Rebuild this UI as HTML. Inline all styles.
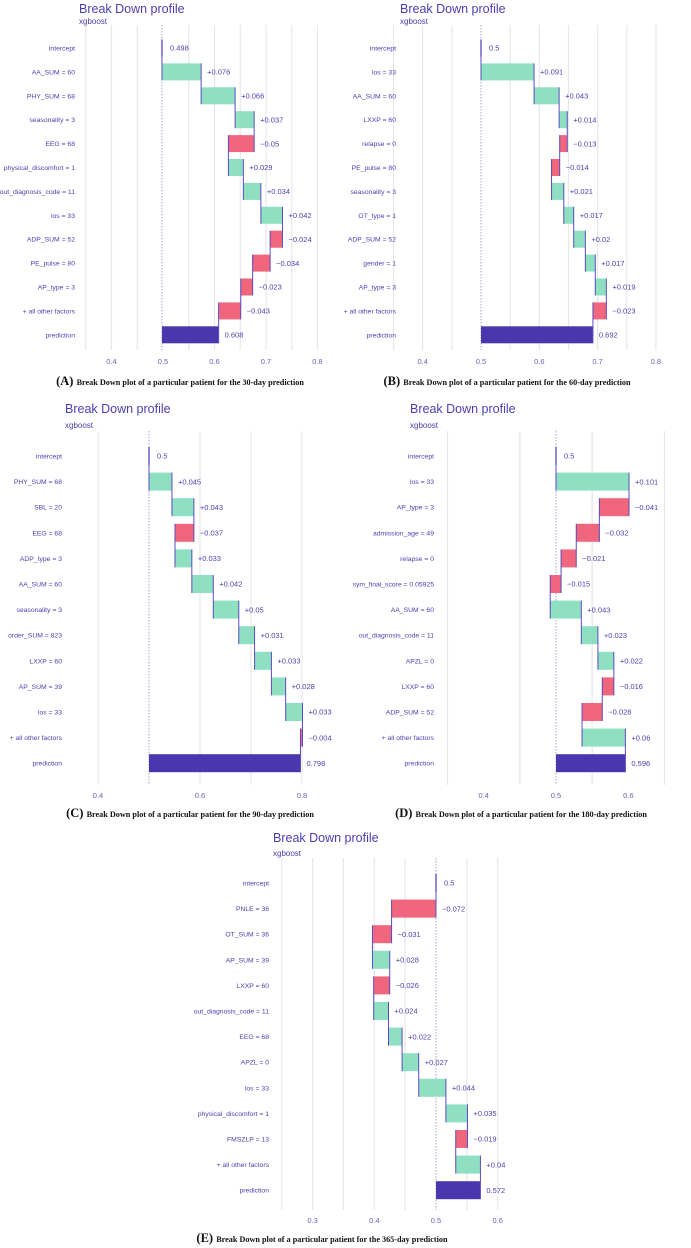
<!DOCTYPE html>
<html><head><meta charset="utf-8">
<style>
html,body{margin:0;padding:0;background:#fff;}
svg{display:block;}
</style></head>
<body>
<svg id="chart" width="691" height="1248" viewBox="0 0 691 1248" xmlns="http://www.w3.org/2000/svg"></svg>
<script>
// Panel A (30-day)
const labelsA = ["intercept","AA_SUM = 60","PHY_SUM = 68","seasonality = 3","EEG = 68","physical_discomfort = 1","out_diagnosis_code = 11","los = 33","ADP_SUM = 52","PE_pulse = 80","AP_type = 3","+ all other factors","prediction"];
const interceptA = 0.498;
const contribA = [0.076,0.066,0.037,-0.05,0.029,0.034,0.042,-0.024,-0.034,-0.023,-0.043];
const textA = ["0.498","+0.076","+0.066","+0.037","\u22120.05","+0.029","+0.034","+0.042","\u22120.024","\u22120.034","\u22120.023","\u22120.043","0.608"];
const ticksA = [0.4,0.5,0.6,0.7,0.8];
// Panel B (60-day)
const labelsB = ["intercept","los = 33","AA_SUM = 60","LXXP = 60","relapse = 0","PE_pulse = 80","seasonality = 3","OT_type = 1","ADP_SUM = 52","gender = 1","AP_type = 3","+ all other factors","prediction"];
const interceptB = 0.5;
const contribB = [0.091,0.043,0.014,-0.013,-0.014,0.021,0.017,0.02,0.017,0.019,-0.023];
const textB = ["0.5","+0.091","+0.043","+0.014","\u22120.013","\u22120.014","+0.021","+0.017","+0.02","+0.017","+0.019","\u22120.023","0.692"];
const ticksB = [0.4,0.5,0.6,0.7,0.8];
// Panel C (90-day)
const labelsC = ["intercept","PHY_SUM = 68","SBL = 20","EEG = 68","ADP_type = 3","AA_SUM = 60","seasonality = 3","order_SUM = 823","LXXP = 60","AP_SUM = 39","los = 33","+ all other factors","prediction"];
const interceptC = 0.5;
const contribC = [0.045,0.043,-0.037,0.033,0.042,0.05,0.031,0.033,0.028,0.033,-0.004];
const textC = ["0.5","+0.045","+0.043","\u22120.037","+0.033","+0.042","+0.05","+0.031","+0.033","+0.028","+0.033","\u22120.004","0.798"];
const ticksC = [0.4,0.6,0.8];
// Panel D (180-day)
const labelsD = ["intercept","los = 33","AP_type = 3","admission_age = 49","relapse = 0","sym_final_score = 0.05925","AA_SUM = 60","out_diagnosis_code = 11","APZL = 0","LXXP = 60","ADP_SUM = 52","+ all other factors","prediction"];
const interceptD = 0.5;
const contribD = [0.101,-0.041,-0.032,-0.021,-0.015,0.043,0.023,0.022,-0.016,-0.028,0.06];
const textD = ["0.5","+0.101","\u22120.041","\u22120.032","\u22120.021","\u22120.015","+0.043","+0.023","+0.022","\u22120.016","\u22120.028","+0.06","0.596"];
const ticksD = [0.4,0.5,0.6];
// Panel E (365-day)
const labelsE = ["intercept","PNLE = 36","OT_SUM = 36","AP_SUM = 39","LXXP = 60","out_diagnosis_code = 11","EEG = 68","APZL = 0","los = 33","physical_discomfort = 1","FMSZLP = 13","+ all other factors","prediction"];
const interceptE = 0.5;
const contribE = [-0.072,-0.031,0.028,-0.026,0.024,0.022,0.027,0.044,0.035,-0.019,0.04];
const textE = ["0.5","\u22120.072","\u22120.031","+0.028","\u22120.026","+0.024","+0.022","+0.027","+0.044","+0.035","\u22120.019","+0.04","0.572"];
const ticksE = [0.3,0.4,0.5,0.6];

const NS="http://www.w3.org/2000/svg";
const svg=document.getElementById('chart');
function mk(tag,attrs,parent){const e=document.createElementNS(NS,tag);for(const k in attrs)e.setAttribute(k,attrs[k]);(parent||svg).appendChild(e);return e;}

const panels=[
 {id:'a',letter:'(A)',cap:'Break Down plot of a particular patient for the 30-day prediction',labels:labelsA,ic:interceptA,c:contribA,t:textA,ticks:ticksA,
  x0:163,k:515,grid:[0.35,0.4,0.45,0.55,0.6,0.65,0.7,0.75,0.8],gTop:25,gBot:350,row0:48,step:23.9,bh:17,lr:75,tx:79,ty:13,sy:24,tickY:364,capY:385,capX:180},
 {id:'b',letter:'(B)',cap:'Break Down plot of a particular patient for the 60-day prediction',labels:labelsB,ic:interceptB,c:contribB,t:textB,ticks:ticksB,
  x0:481,k:583,grid:[0.35,0.4,0.45,0.55,0.6,0.65,0.7,0.75,0.8],gTop:25,gBot:350,row0:48,step:23.9,bh:17,lr:396,tx:400,ty:13,sy:24,tickY:364,capY:385,capX:507},
 {id:'c',letter:'(C)',cap:'Break Down plot of a particular patient for the 90-day prediction',labels:labelsC,ic:interceptC,c:contribC,t:textC,ticks:ticksC,
  x0:149,k:510,grid:[0.4,0.6,0.7,0.8],gTop:431,gBot:785,row0:456,step:25.6,bh:18,lr:62,tx:65,ty:413,sy:428,tickY:798,capY:817,capX:190},
 {id:'d',letter:'(D)',cap:'Break Down plot of a particular patient for the 180-day prediction',labels:labelsD,ic:interceptD,c:contribD,t:textD,ticks:ticksD,
  x0:556,k:723,grid:[0.35,0.45,0.55,0.65],gTop:431,gBot:785,row0:456,step:25.6,bh:18,lr:434,tx:410,ty:413,sy:428,tickY:798,capY:817,capX:521},
 {id:'e',letter:'(E)',cap:'Break Down plot of a particular patient for the 365-day prediction',labels:labelsE,ic:interceptE,c:contribE,t:textE,ticks:ticksE,
  x0:436,k:617,grid:[0.25,0.3,0.35,0.4,0.45,0.55,0.6],gTop:858,gBot:1210,row0:883,step:25.6,bh:18,lr:269,tx:273,ty:842,sy:856,tickY:1223,capY:1242,capX:322}
];

panels.forEach(p=>{
  const g=mk('g',{});
  
  
  const X=v=>p.x0+(v-0.5)*p.k;
  const Y=i=>p.row0+i*p.step;
  p.grid.forEach(v=>{
    const l=mk('line',{x1:X(v),x2:X(v),y1:p.gTop,y2:p.gBot,stroke:'#e6e6ee','stroke-width':1.2},g);
    
    
  });
  const base=mk('line',{x1:X(p.ic),x2:X(p.ic),y1:p.gTop,y2:p.gBot,stroke:'#9a9ac8','stroke-width':0.9,'stroke-dasharray':'1.5,1.5'},g);
  
  
  const t=mk('text',{x:p.tx,y:p.ty,'font-family':'Liberation Sans, sans-serif','font-size':12.5,fill:'#4a3fb0'},g);
  t.textContent='Break Down profile';
  
  
  const s=mk('text',{x:p.tx,y:p.sy,'font-family':'Liberation Sans, sans-serif','font-size':8,fill:'#4a3fb0'},g);
  s.textContent='xgboost';
  
  
  let cum=p.ic;
  const n=p.labels.length;
  for(let i=0;i<n;i++){
    const y=Y(i);
    const lb=mk('text',{x:p.lr,y:y+2.5,'text-anchor':'end','font-family':'Liberation Sans, sans-serif','font-size':6.8,fill:'#4a3fb0'},g);
    lb.textContent=p.labels[i];
    
    
    let a,b,col;
    if(i===0){a=p.ic;b=p.ic;col='#4a3fb0';
      const ln=mk('line',{x1:X(a),x2:X(a),y1:y-p.bh/2,y2:y+p.bh/2,stroke:'#4a3fb0','stroke-width':1.3},g);
      
      
    } else if(i===n-1){a=p.ic;b=cum;col='#4a36ad';
      const r=mk('rect',{x:Math.min(X(a),X(b)),y:y-p.bh/2,width:Math.abs(X(b)-X(a)),height:p.bh,fill:col},g);
      
      
    } else {
      a=cum;b=cum+p.c[i-1];col=p.c[i-1]>=0?'#8fdfc3':'#f0667c';
      const r=mk('rect',{x:Math.min(X(a),X(b)),y:y-p.bh/2,width:Math.max(0.8,Math.abs(X(b)-X(a))),height:p.bh,fill:col},g);
      
      
      const cn=mk('line',{x1:X(a),x2:X(a),y1:Y(i-1)-p.bh/2,y2:y+p.bh/2,stroke:'#5a4cc0','stroke-width':1},g);
      
      
      cum=b;
    }
    if(i===n-1){
      const cn=mk('line',{x1:X(cum),x2:X(cum),y1:Y(i-1)-p.bh/2,y2:y+p.bh/2,stroke:'#5a4cc0','stroke-width':1},g);
      
      
    }
    const vx=X(Math.max(a,b))+(i===0?8:6);
    const vt=mk('text',{x:vx,y:y+2.7,'font-family':'Liberation Sans, sans-serif','font-size':7.5,fill:'#4a3fb0'},g);
    vt.textContent=p.t[i];
    
    
  }
  p.ticks.forEach(v=>{
    const tk=mk('text',{x:X(v),y:p.tickY,'text-anchor':'middle','font-family':'Liberation Sans, sans-serif','font-size':7.5,fill:'#6a60c0'},g);
    tk.textContent=String(v);
    
    
  });
  const cp=mk('text',{x:p.capX,y:p.capY,'text-anchor':'middle','font-family':'Liberation Serif, serif','font-weight':'bold','font-size':8.2,fill:'#111'},g);
  
  
  const ts=mk('tspan',{'font-size':12.5},cp);
  ts.textContent=p.letter+' ';
  const ts2=mk('tspan',{},cp);
  ts2.textContent=p.cap;
});
</script>
</body></html>
